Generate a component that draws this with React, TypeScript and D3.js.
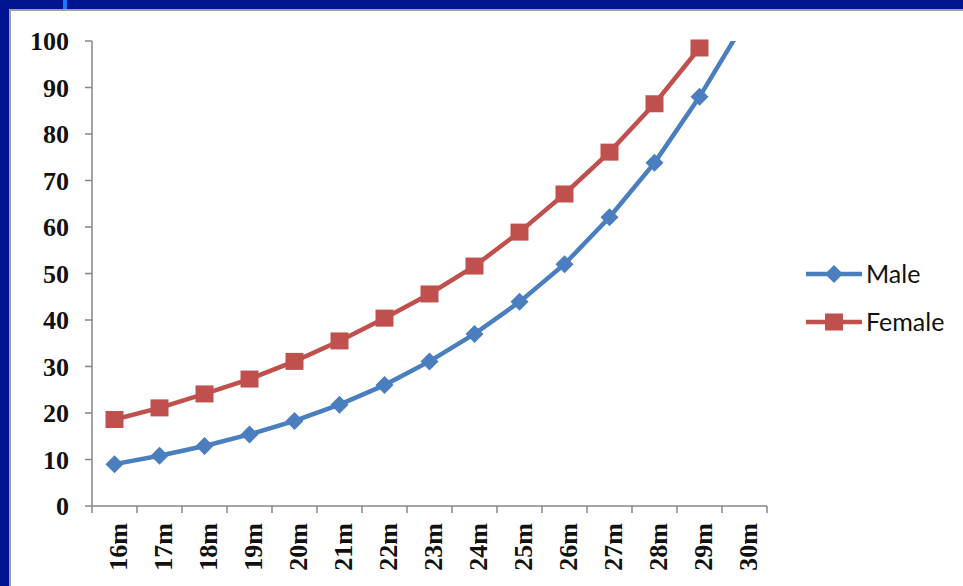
import { useEffect } from 'react';
import * as d3 from 'd3';

const categories = ['16m', '17m', '18m', '19m', '20m', '21m', '22m', '23m', '24m', '25m', '26m', '27m', '28m', '29m', '30m'];
const maleValues = [9.0, 10.8, 12.9, 15.4, 18.3, 21.8, 26.0, 31.1, 37.0, 43.9, 52.0, 62.1, 73.8, 88.0, 104.0];
const femaleValues = [18.6, 21.1, 24.1, 27.3, 31.1, 35.5, 40.4, 45.6, 51.6, 58.9, 67.1, 76.1, 86.5, 98.5, null];
const yTicks = [0, 10, 20, 30, 40, 50, 60, 70, 80, 90, 100];

const series = [
  { name: 'Male', values: maleValues, color: '#4a7ebf', marker: 'diamond' },
  { name: 'Female', values: femaleValues, color: '#c0504d', marker: 'square' },
];

const W = 963;
const H = 586;
const margin = { top: 41, left: 92, right: 196, bottom: 80 };

const Marker = ({ type, x, y, color }: { type: string; x: number; y: number; color: string }) => {
  if (type === 'diamond') {
    const r = 9;
    return <path d={`M${x},${y - r}L${x + r},${y}L${x},${y + r}L${x - r},${y}Z`} fill={color} />;
  }
  return <rect x={x - 9} y={y - 8.5} width={18} height={17} fill={color} />;
};

export default function App() {
  useEffect(() => {
    document.body.style.margin = '0';
  }, []);

  const x0 = margin.left;
  const x1 = W - margin.right;
  const y0 = H - margin.bottom;
  const y1 = margin.top;

  const xScale = d3.scaleBand<string>().domain(categories).range([x0, x1]).padding(0);
  const yScale = d3.scaleLinear().domain([0, 100]).range([y0, y1]);
  const cx = (c: string) => (xScale(c) ?? 0) + xScale.bandwidth() / 2;

  const line = d3
    .line<number | null>()
    .defined((d) => d !== null)
    .x((_, i) => cx(categories[i]))
    .y((d) => yScale(d as number));

  // tick marks sit between categories
  const boundaries = categories.map((c) => xScale(c) ?? 0).concat([x1]);

  return (
    <svg width={W} height={H} style={{ display: 'block' }}>
      <defs>
        <clipPath id="plot">
          <rect x={x0} y={y1} width={x1 - x0 + 40} height={y0 - y1} />
        </clipPath>
      </defs>
      <rect width={W} height={H} fill="#001490" />
      <rect x={63} y={0} width={4} height={10} fill="#2277ff" />
      <rect x={10} y={10} width={W} height={H} fill="#ffffff" stroke="#a0a0a0" strokeWidth={2} />

      {/* y axis */}
      <line x1={x0} x2={x0} y1={y1} y2={y0} stroke="#868686" strokeWidth={1.5} />
      {yTicks.map((t) => (
        <g key={t}>
          <line x1={x0 - 7} x2={x0} y1={yScale(t)} y2={yScale(t)} stroke="#868686" strokeWidth={1.5} />
          <text
            x={69}
            y={yScale(t)}
            dy="0.35em"
            textAnchor="end"
            fontFamily="'Liberation Serif', serif"
            fontWeight="bold"
            fontSize={26}
            fill="#111"
          >
            {t}
          </text>
        </g>
      ))}

      {/* x axis */}
      <line x1={x0} x2={x1} y1={y0} y2={y0} stroke="#868686" strokeWidth={1.5} />
      {boundaries.map((b, i) => (
        <line key={i} x1={b} x2={b} y1={y0} y2={y0 + 7} stroke="#868686" strokeWidth={1.5} />
      ))}
      {categories.map((c) => (
        <text
          key={c}
          transform={`translate(${cx(c) + 3},${y0 + 17}) rotate(-90)`}
          dy="0.35em"
          textAnchor="end"
          fontFamily="'Liberation Serif', serif"
          fontWeight="bold"
          fontSize={26}
          fill="#111"
        >
          {c}
        </text>
      ))}

      {/* series */}
      {series.map((s) => (
        <g key={s.name}>
          <path d={line(s.values) ?? ''} fill="none" stroke={s.color} strokeWidth={4.5} clipPath="url(#plot)" />
          {s.values.map((v, i) =>
            v !== null && v <= 100 ? (
              <Marker key={i} type={s.marker} x={cx(categories[i])} y={yScale(v)} color={s.color} />
            ) : null
          )}
        </g>
      ))}

      {/* legend */}
      {series.map((s, i) => {
        const ly = 274 + i * 48;
        return (
          <g key={s.name}>
            <line x1={806} x2={862} y1={ly} y2={ly} stroke={s.color} strokeWidth={4.5} />
            <Marker type={s.marker} x={834} y={ly} color={s.color} />
            <text x={866} y={ly} dy="0.36em" fontFamily="Lato, sans-serif" fontSize={25} fill="#111">
              {s.name}
            </text>
          </g>
        );
      })}
    </svg>
  );
}
